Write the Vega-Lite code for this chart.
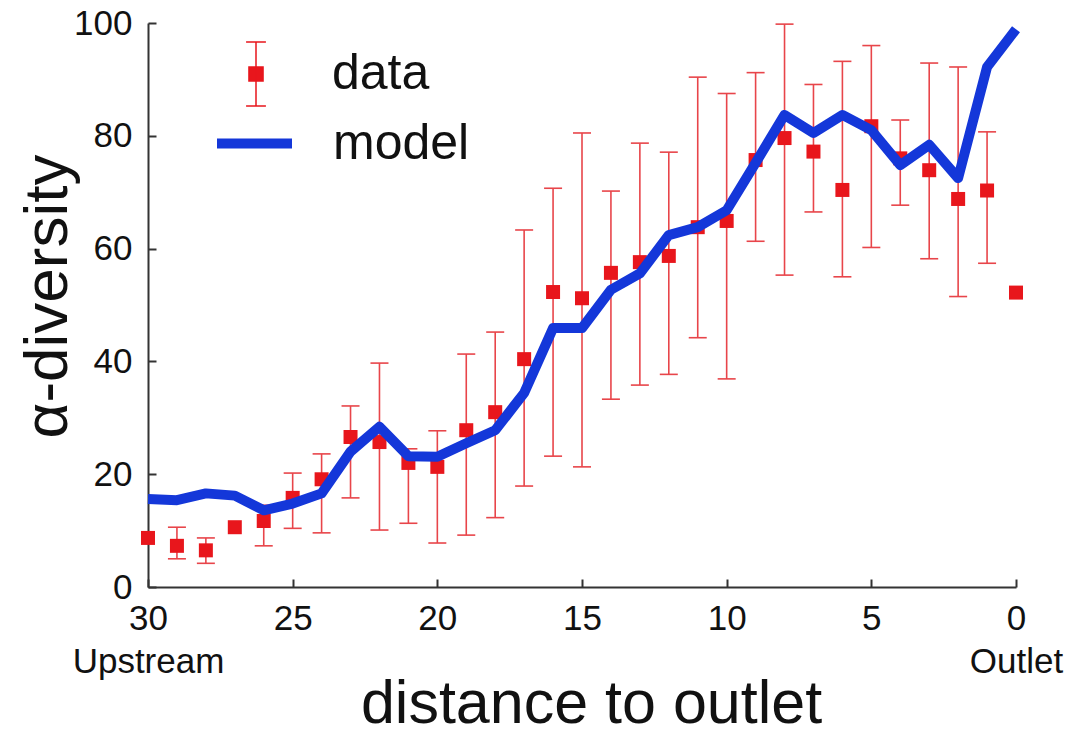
{
  "$schema": "https://vega.github.io/schema/vega-lite/v6.json",
  "autosize": {"type": "none"},
  "width": 868,
  "height": 564,
  "padding": {"left": 148, "top": 23, "right": 55, "bottom": 144},
  "background": "white",
  "config": {
    "view": {"stroke": null},
    "font": "Liberation Sans",
    "axis": {
      "grid": false,
      "ticks": true,
      "domainColor": "#333333",
      "domainWidth": 2,
      "tickColor": "#333333",
      "tickWidth": 2,
      "tickSize": -8,
      "labelFont": "Liberation Sans",
      "titleFont": "Liberation Sans",
      "labelColor": "#111111",
      "titleColor": "#111111",
      "titleFontWeight": "normal",
      "labelFontSize": 35,
      "titleFontSize": 61
    }
  },
  "data": {
    "values": [
      {"d": 30, "v": 8.7, "lo": null, "hi": null, "m": 15.6},
      {"d": 29, "v": 7.3, "lo": 5.0, "hi": 10.6, "m": 15.4},
      {"d": 28, "v": 6.5, "lo": 4.2, "hi": 8.7, "m": 16.6},
      {"d": 27, "v": 10.6, "lo": null, "hi": null, "m": 16.2},
      {"d": 26, "v": 11.7, "lo": 7.3, "hi": 14.5, "m": 13.6},
      {"d": 25, "v": 15.8, "lo": 10.4, "hi": 20.2, "m": 14.8},
      {"d": 24, "v": 19.1, "lo": 9.6, "hi": 23.6, "m": 16.6},
      {"d": 23, "v": 26.6, "lo": 15.8, "hi": 32.1, "m": 24.0},
      {"d": 22, "v": 25.7, "lo": 10.1, "hi": 39.7, "m": 28.4},
      {"d": 21, "v": 22.0, "lo": 11.3, "hi": 24.5, "m": 23.2},
      {"d": 20, "v": 21.3, "lo": 7.8, "hi": 27.7, "m": 23.1},
      {"d": 19, "v": 27.8, "lo": 9.2, "hi": 41.3, "m": 25.5},
      {"d": 18, "v": 31.0, "lo": 12.3, "hi": 45.2, "m": 27.8},
      {"d": 17, "v": 40.4, "lo": 17.9, "hi": 63.3, "m": 34.4},
      {"d": 16, "v": 52.3, "lo": 23.2, "hi": 70.7, "m": 45.9},
      {"d": 15, "v": 51.2, "lo": 21.3, "hi": 80.5, "m": 45.9},
      {"d": 14, "v": 55.7, "lo": 33.3, "hi": 70.2, "m": 52.7},
      {"d": 13, "v": 57.6, "lo": 35.8, "hi": 78.7, "m": 55.6},
      {"d": 12, "v": 58.7, "lo": 37.7, "hi": 77.1, "m": 62.4},
      {"d": 11, "v": 63.8, "lo": 44.2, "hi": 90.4, "m": 63.8},
      {"d": 10, "v": 64.9, "lo": 36.9, "hi": 87.5, "m": 66.8},
      {"d": 9, "v": 75.7, "lo": 61.3, "hi": 91.2, "m": 75.2},
      {"d": 8, "v": 79.6, "lo": 55.3, "hi": 99.8, "m": 83.7},
      {"d": 7, "v": 77.2, "lo": 66.5, "hi": 89.1, "m": 80.5},
      {"d": 6, "v": 70.4, "lo": 55.0, "hi": 93.2, "m": 83.7},
      {"d": 5, "v": 81.7, "lo": 60.2, "hi": 96.0, "m": 81.0},
      {"d": 4, "v": 76.0, "lo": 67.7, "hi": 82.8, "m": 74.8},
      {"d": 3, "v": 73.9, "lo": 58.2, "hi": 92.9, "m": 78.4},
      {"d": 2, "v": 68.8, "lo": 51.5, "hi": 92.2, "m": 72.5},
      {"d": 1, "v": 70.3, "lo": 57.4, "hi": 80.7, "m": 92.2},
      {"d": 0, "v": 52.2, "lo": null, "hi": null, "m": 98.9}
    ]
  },
  "encoding": {
    "x": {
      "field": "d",
      "type": "quantitative",
      "scale": {"domain": [0, 30], "reverse": true, "nice": false, "zero": false},
      "axis": {
        "values": [30, 25, 20, 15, 10, 5, 0],
        "title": "distance to outlet",
        "labelBaseline": "top",
        "labelPadding": 22,
        "labelLineHeight": 43,
        "labelOverlap": false,
        "labelFlush": false,
        "labelBound": false,
        "labelExpr": "datum.value == 30 ? ['30', 'Upstream'] : datum.value == 0 ? ['0', 'Outlet'] : datum.label",
        "titleX": 443,
        "titleY": 135,
        "titleAlign": "center",
        "titleBaseline": "alphabetic"
      }
    }
  },
  "layer": [
    {
      "mark": {"type": "rule", "color": "#e8454a", "strokeWidth": 1.6},
      "encoding": {
        "y": {
          "field": "lo",
          "type": "quantitative",
          "scale": {"domain": [0, 100], "nice": false},
          "axis": {
            "values": [0, 20, 40, 60, 80, 100],
            "title": "α-diversity",
            "labelPadding": 24,
            "labelOverlap": false,
            "labelBound": false,
            "labelFlush": false,
            "titleX": -82,
            "titleY": 273,
            "titleAngle": 270,
            "titleAlign": "center",
            "titleBaseline": "alphabetic",
            "titleFontSize": 62
          }
        },
        "y2": {"field": "hi"}
      }
    },
    {
      "mark": {"type": "tick", "orient": "horizontal", "color": "#e8454a", "size": 18, "thickness": 1.6, "opacity": 1},
      "encoding": {"y": {"field": "lo", "type": "quantitative"}}
    },
    {
      "mark": {"type": "tick", "orient": "horizontal", "color": "#e8454a", "size": 18, "thickness": 1.6, "opacity": 1},
      "encoding": {"y": {"field": "hi", "type": "quantitative"}}
    },
    {
      "mark": {"type": "point", "shape": "square", "filled": true, "size": 196, "opacity": 1, "strokeWidth": 0},
      "encoding": {
        "y": {"field": "v", "type": "quantitative"},
        "fill": {
          "datum": "data",
          "type": "nominal",
          "scale": {"range": ["#e8161c"]},
          "legend": {
            "title": null,
            "orient": "none",
            "legendX": 75,
            "legendY": 18,
            "padding": 0,
            "symbolType": "M-0.22,-0.22H0.22V0.22H-0.22Z M0,-1V1 M-0.31,-1H0.31 M-0.31,1H0.31",
            "symbolSize": 4096,
            "symbolStrokeWidth": 1.5,
            "symbolStrokeColor": "#e8161c",
            "labelFontSize": 50,
            "labelFont": "Liberation Sans",
            "labelColor": "#111111",
            "labelOffset": 43,
            "labelLimit": 400,
            "encode": {
              "symbols": {"update": {"stroke": {"value": "#e8454a"}, "strokeWidth": {"value": 1.5}, "fill": {"value": "#e8161c"}}},
              "labels": {"update": {"dy": {"value": 12}}}
            }
          }
        }
      }
    },
    {
      "mark": {"type": "line", "strokeWidth": 10, "strokeJoin": "round", "strokeCap": "butt"},
      "encoding": {
        "y": {"field": "m", "type": "quantitative"},
        "stroke": {
          "datum": "model",
          "type": "nominal",
          "scale": {"range": ["#1437d9"]},
          "legend": {
            "title": null,
            "orient": "none",
            "legendX": 64,
            "legendY": 78,
            "padding": 0,
            "symbolType": "stroke",
            "symbolSize": 5625,
            "symbolStrokeWidth": 10,
            "labelFontSize": 50,
            "labelFont": "Liberation Sans",
            "labelColor": "#111111",
            "labelOffset": 36,
            "labelLimit": 400
          }
        }
      }
    }
  ]
}
